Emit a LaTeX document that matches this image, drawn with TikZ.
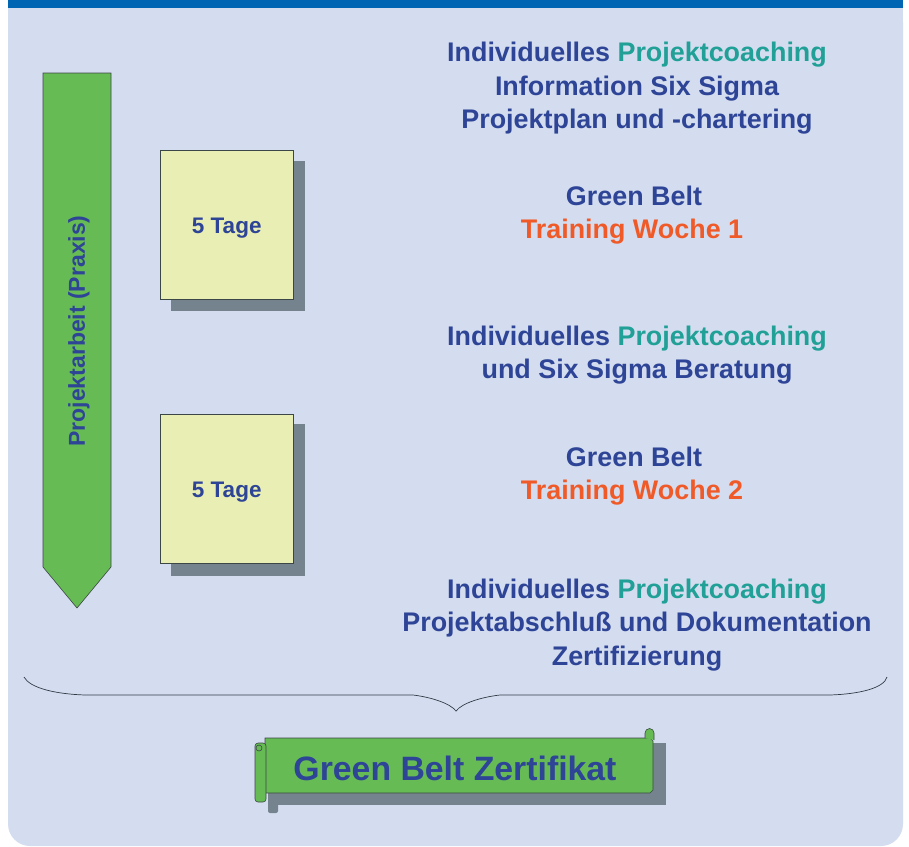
\documentclass[tikz,border=0pt]{standalone}
\usepackage{fontspec}
\setmainfont{Liberation Sans}
\definecolor{panelc}{RGB}{212,221,239}
\definecolor{bandc}{RGB}{0,102,179}
\definecolor{dblue}{RGB}{46,68,150}
\definecolor{tealc}{RGB}{32,160,150}
\definecolor{orangec}{RGB}{240,90,40}
\definecolor{greenf}{RGB}{102,187,85}
\definecolor{yellowf}{RGB}{232,238,180}
\definecolor{shadowc}{RGB}{117,131,143}
\definecolor{edgec}{RGB}{60,70,70}
\definecolor{bracec}{RGB}{50,58,70}
\begin{document}
\begin{tikzpicture}[x=1pt,y=-1pt,
  txt/.style={font=\bfseries\fontsize{26.9}{33}\selectfont, text=dblue, anchor=base, inner sep=0pt},
  daybox/.style={draw=edgec, line width=0.6pt, fill=yellowf, minimum width=133pt, minimum height=149pt, inner sep=0pt, text height=22pt, text depth=4.7pt, font=\bfseries\fontsize{22.5}{27}\selectfont, text=dblue},
  outl/.style={draw=edgec, line width=0.6pt, fill=greenf}]
\useasboundingbox (0,0) rectangle (909,846);
\fill[white] (0,0) rectangle (909,846);
% panel
\fill[panelc, rounded corners=22pt] (8,0) rectangle (903,846);
\fill[panelc] (8,0) rectangle (903,40);
\fill[bandc] (8,0) rectangle (903,8);
% green arrow
\draw[outl] (43,73) -- (111,73) -- (111,567) -- (77,608) -- (43,567) -- cycle;
\node[rotate=90, inner sep=0pt, font=\bfseries\fontsize{23}{27}\selectfont, text=dblue] (parx) at (79,331) {Projektarbeit (Praxis)};
% day boxes
\fill[shadowc] (171,161) rectangle (305,311);
\node[daybox] (d1) at (226.7,224.7) {5 Tage};
\fill[shadowc] (171,424) rectangle (305,576);
\node[daybox] (d2) at (226.7,488.4) {5 Tage};
% right texts
\node[txt] (a1) at (637,61) {Individuelles \textcolor{tealc}{Projektcoaching}};
\node[txt] (a2) at (637,95) {Information Six Sigma};
\node[txt] (a3) at (637,128) {Projektplan und -chartering};
\node[txt] (b1) at (634,205.5) {Green Belt};
\node[txt, text=orangec] (b2) at (632,238.5) {Training Woche 1};
\node[txt] (c1) at (637,345) {Individuelles \textcolor{tealc}{Projektcoaching}};
\node[txt] (c2) at (637,378) {und Six Sigma Beratung};
\node[txt] (e1) at (634,466) {Green Belt};
\node[txt, text=orangec] (e2) at (632,499) {Training Woche 2};
\node[txt] (f1) at (637,598) {Individuelles \textcolor{tealc}{Projektcoaching}};
\node[txt] (f2) at (637,631.5) {Projektabschlu\ss{} und Dokumentation};
\node[txt] (f3) at (637,665) {Zertifizierung};
% brace
\draw[bracec, line width=0.7pt] (24,677) .. controls (30,688) and (55,694) .. (85,695) -- (413,695)
  .. controls (430,697) and (450,703) .. (456,711)
  .. controls (462,703) and (482,697) .. (500,695) -- (830,695)
  .. controls (860,694) and (884,688) .. (887,677);
% scroll
\fill[shadowc] (277,743) rectangle (666,805);
\fill[shadowc, rounded corners=2pt] (268,760) rectangle (278,813);
\draw[outl] (265,738) -- (650,738) -- (653,741) -- (653,790) -- (650,793) -- (265,793) -- cycle;
\draw[outl] (645,738) -- (645,733) arc[start angle=180, end angle=360, radius=4.5] -- (654,740);
\draw[outl, rounded corners=3pt] (255,743) rectangle (266,802);
\draw[outl] (259,748) circle[radius=3];
\node[inner sep=0pt, font=\bfseries\fontsize{33.8}{40}\selectfont, text=dblue] (zert) at (455,768) {Green Belt Zertifikat};
\end{tikzpicture}
\end{document}
